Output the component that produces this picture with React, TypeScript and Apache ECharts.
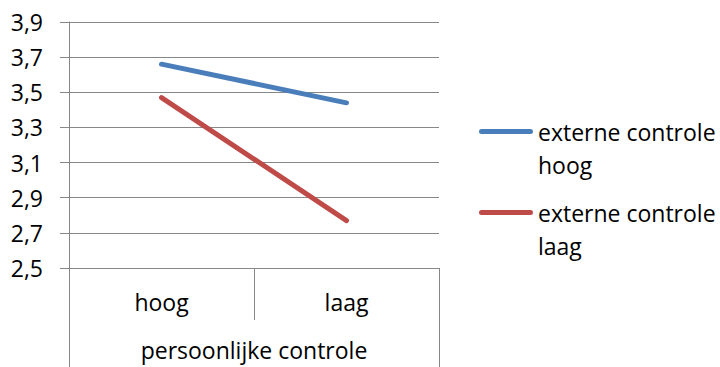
import React, { useEffect, useRef } from "react";
import * as echarts from "echarts";

const categories = ["hoog", "laag"];
const outerCategory = ["persoonlijke controle"];
const seriesNames = ["externe controle\nhoog", "externe controle\nlaag"];
const externHoog = [3.66, 3.44];
const externLaag = [3.47, 2.77];
const yMin = 2.5;
const yMax = 3.9;
const yStep = 0.2;

const FONT = "'Open Sans', 'Noto Sans', sans-serif";
const AXIS_COLOR = "#878787";

export default function App() {
  const ref = useRef<HTMLDivElement>(null);
  useEffect(() => {
    if (!ref.current) return;
    const chart = echarts.init(ref.current, undefined, { renderer: "svg" });
    const iconPath =
      "path://M2.5,0L51.5,0A2.5,2.5,0,0,1,51.5,5L2.5,5A2.5,2.5,0,0,1,2.5,0Z M0,38L0.01,38L0.01,37.99Z";
    chart.setOption({
      animation: false,
      backgroundColor: "#ffffff",
      textStyle: { fontFamily: FONT },
      grid: { left: 69, right: 281, top: 22, bottom: 99, containLabel: false },
      legend: {
        orient: "vertical",
        left: 479,
        top: 115,
        padding: 0,
        itemWidth: 54,
        itemHeight: 38,
        itemGap: 15,
        icon: iconPath,
        itemStyle: { borderWidth: 0 },
        textStyle: { fontFamily: FONT, fontSize: 23, lineHeight: 33, color: "#000" },
        data: seriesNames,
      },
      xAxis: [
        {
          type: "category",
          data: categories,
          position: "bottom",
          boundaryGap: true,
          axisLine: { show: true, lineStyle: { color: AXIS_COLOR, width: 1 } },
          axisTick: { show: true, length: 52, lineStyle: { color: AXIS_COLOR, width: 1 } },
          axisLabel: { margin: 22, fontSize: 23, color: "#000", fontFamily: FONT },
          splitLine: { show: false },
        },
        {
          type: "category",
          data: outerCategory,
          position: "bottom",
          boundaryGap: true,
          axisLine: { show: false },
          axisTick: { show: true, length: 99, lineStyle: { color: AXIS_COLOR, width: 1 } },
          axisLabel: { margin: 70, fontSize: 23, color: "#000", fontFamily: FONT },
          splitLine: { show: false },
        },
      ],
      yAxis: {
        type: "value",
        min: yMin,
        max: yMax,
        interval: yStep,
        axisLine: { show: true, lineStyle: { color: AXIS_COLOR, width: 1 } },
        axisTick: { show: true, length: 9, lineStyle: { color: AXIS_COLOR, width: 1 } },
        axisLabel: {
          margin: 26,
          fontSize: 23,
          color: "#000",
          fontFamily: FONT,
          formatter: (v: number) => v.toFixed(1).replace(".", ","),
        },
        splitLine: { show: true, lineStyle: { color: AXIS_COLOR, width: 1 } },
      },
      series: [
        {
          name: seriesNames[0],
          type: "line",
          xAxisIndex: 0,
          data: externHoog,
          symbol: "none",
          color: "#4A7EBB",
          lineStyle: { color: "#4A7EBB", width: 5, cap: "round" },
        },
        {
          name: seriesNames[1],
          type: "line",
          xAxisIndex: 0,
          data: externLaag,
          symbol: "none",
          color: "#BE4B48",
          lineStyle: { color: "#BE4B48", width: 5, cap: "round" },
        },
      ],
    });
    return () => chart.dispose();
  }, []);
  return (
    <div
      ref={ref}
      style={{ position: "fixed", left: 0, top: 0, width: 720, height: 367 }}
    />
  );
}
